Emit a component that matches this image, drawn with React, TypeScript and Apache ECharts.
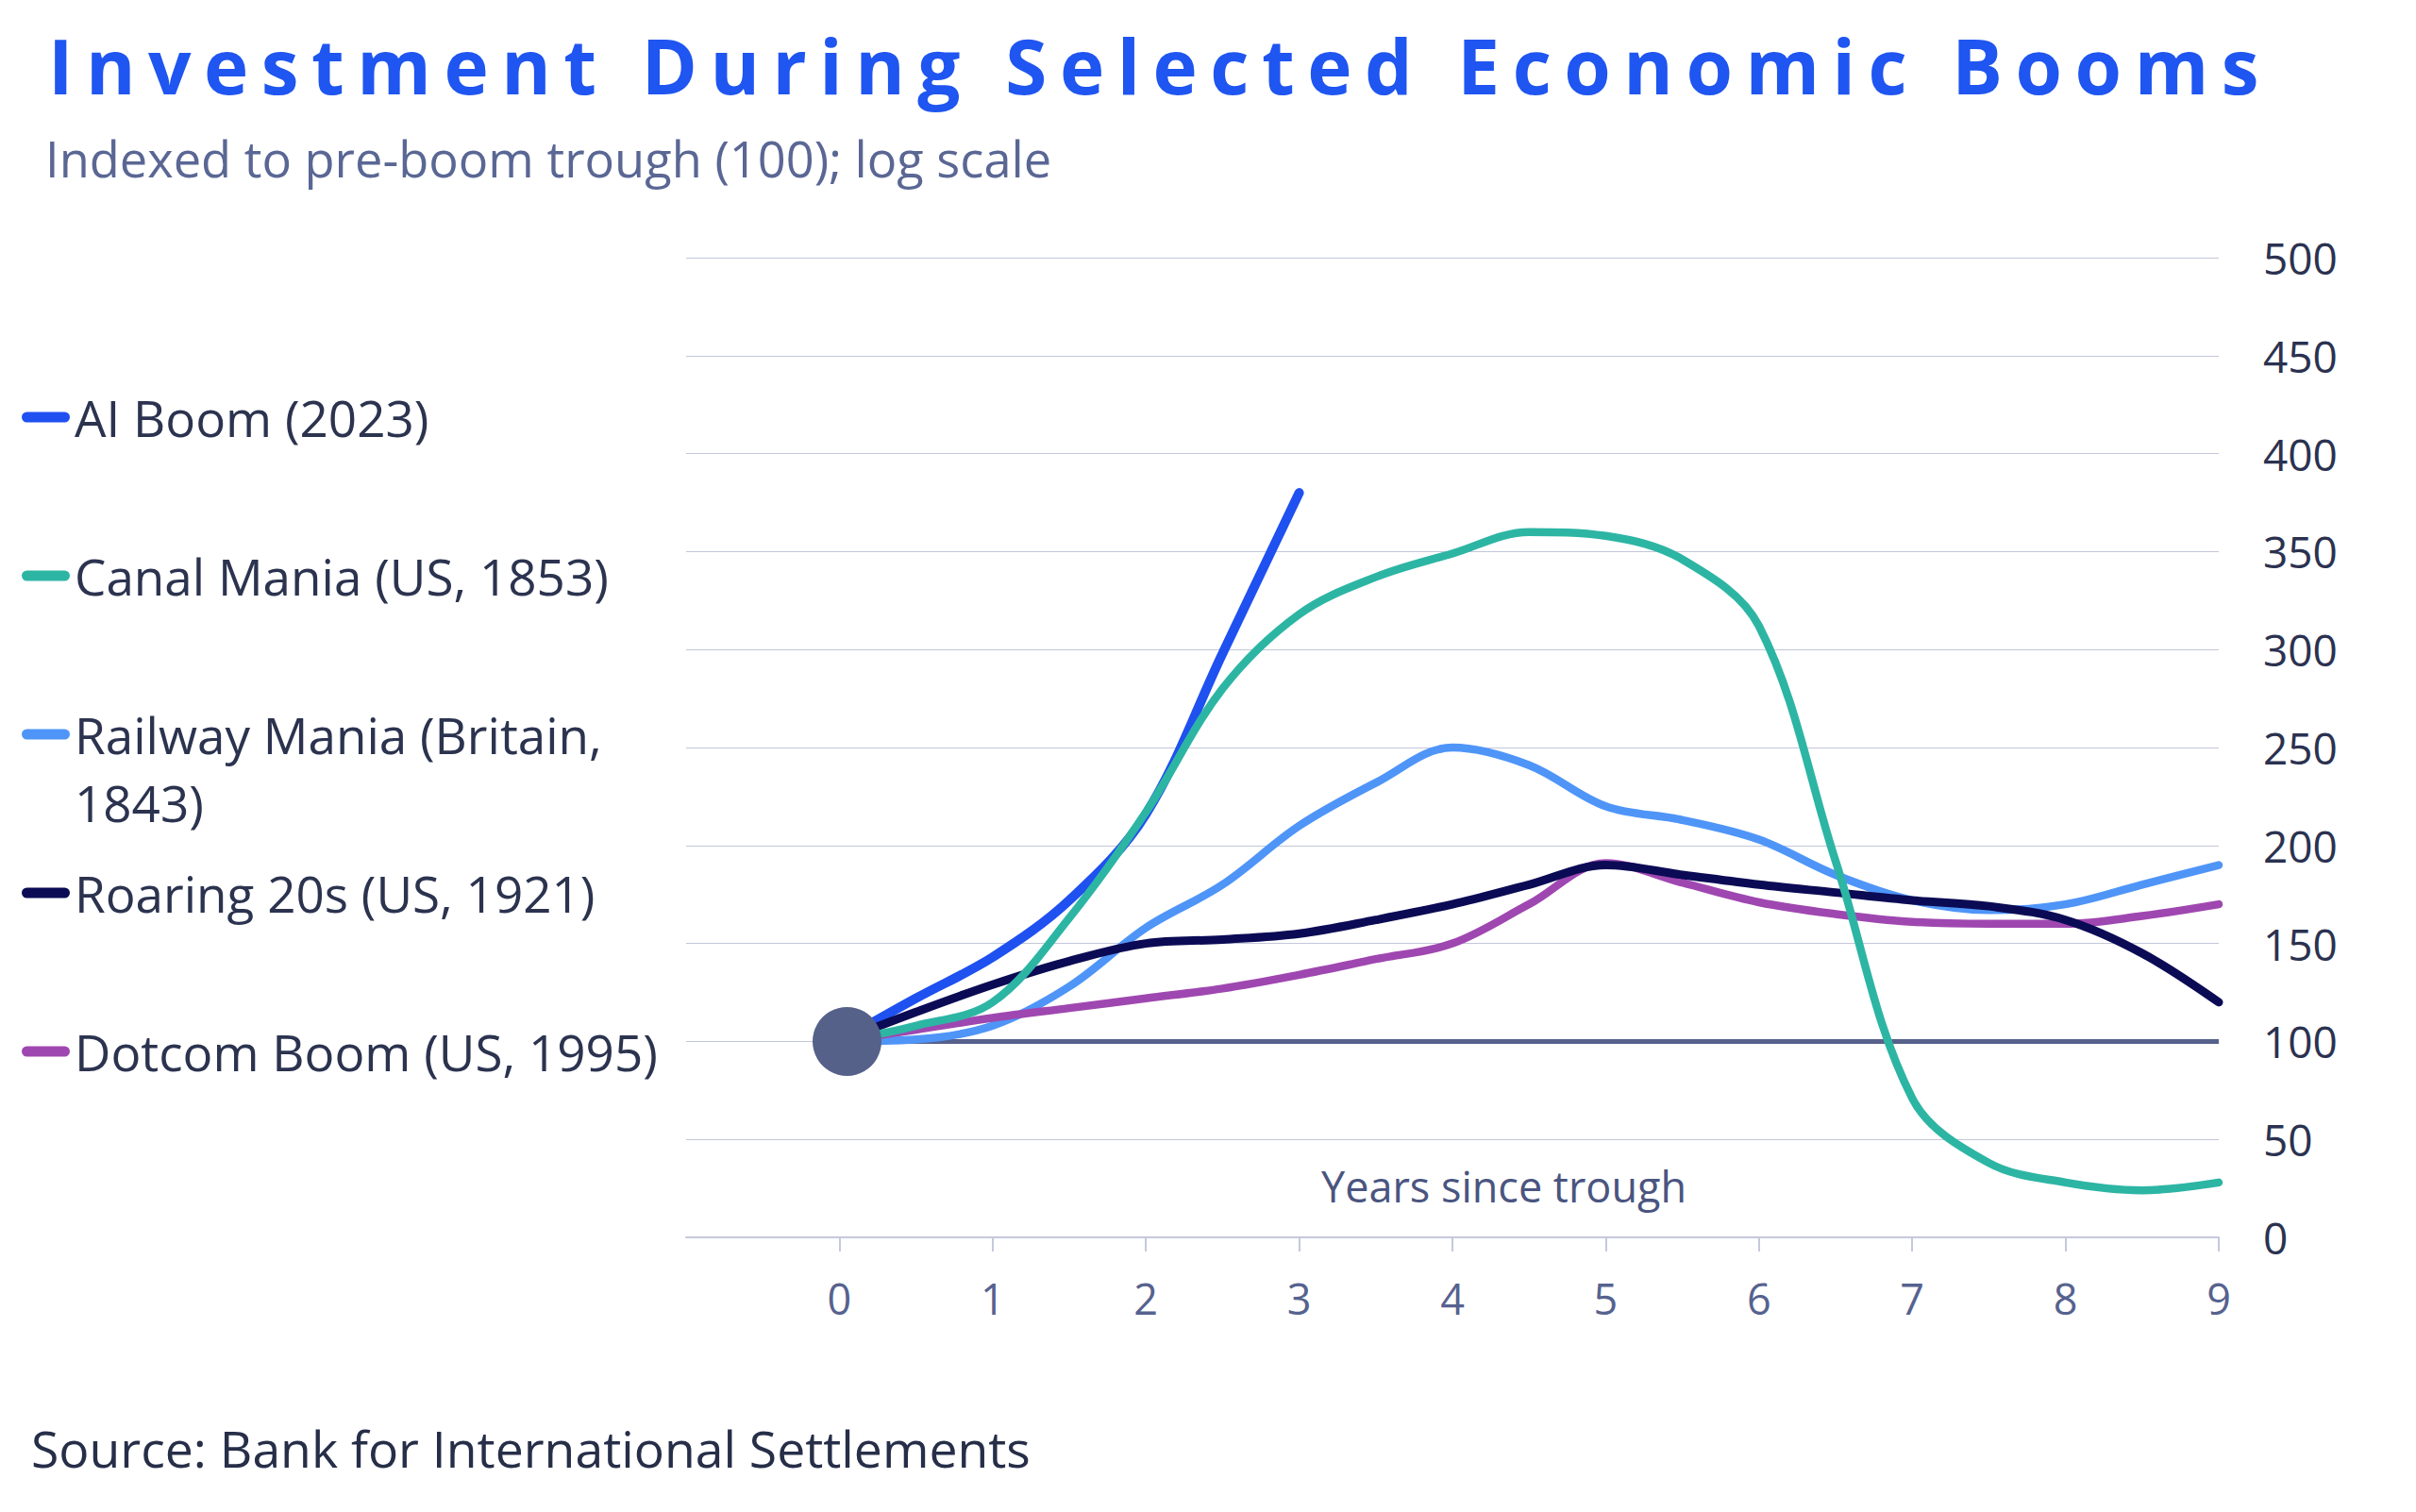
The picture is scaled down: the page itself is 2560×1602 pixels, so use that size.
import React, { useEffect, useRef } from "react";
import * as echarts from "echarts";

// half-year steps since the pre-boom trough
const years = [0, 0.5, 1, 1.5, 2, 2.5, 3, 3.5, 4, 4.5, 5, 5.5, 6, 6.5, 7, 7.5, 8, 8.5, 9];

const aiBoom = [100, 122, 143, 172, 216, 298, 380];
const canalMania = [100, 108, 120, 163, 217, 280, 318, 337, 349, 360, 358, 346, 312, 192, 71, 38, 28, 24, 28];
const railwayMania = [100, 101, 108, 128, 158, 180, 210, 232, 250, 241, 220, 213, 203, 185, 172, 167, 170, 180, 190];
const roaring20s = [100, 115, 129, 141, 150, 152, 155, 162, 170, 180, 190, 185, 180, 176, 172, 169, 162, 145, 120];
const dotcomBoom = [100, 106, 112, 117, 122, 127, 134, 142, 150, 170, 191, 181, 171, 165, 161, 160, 160, 164, 170];

const seriesNames = [
  "AI Boom (2023)",
  "Canal Mania (US, 1853)",
  "Railway Mania (Britain, 1843)",
  "Roaring 20s (US, 1921)",
  "Dotcom Boom (US, 1995)",
];
const seriesValues = [aiBoom, canalMania, railwayMania, roaring20s, dotcomBoom];

const xTickValues = [0, 1, 2, 3, 4, 5, 6, 7, 8, 9];
const baseline = [
  [0, 100],
  [9, 100],
];
const troughPoint = [[0.05, 100]];

const colors = ["#1F50F0", "#2DB5A4", "#4F95F8", "#0B0B55", "#9F47B0"];
const lineWidths = [10, 8.5, 8.5, 9, 8.5];
const lineZ = [4, 8, 3, 6, 5];
const legendCenters = [442, 610, 778, 946, 1114];

const FONT = "'Open Sans', 'Noto Sans', sans-serif";
const CAPSULE = "path://M5.5,0 L45.5,0 A5.5,5.5 0 0 1 45.5,11 L5.5,11 A5.5,5.5 0 0 1 5.5,0 Z";

const toPoints = (vals: number[]) => vals.map((v, i) => [years[i], v]);

const App: React.FC = () => {
  const chartRef = useRef<HTMLDivElement>(null);

  useEffect(() => {
    document.body.style.margin = "0";
    if (!chartRef.current) return;
    const chart = echarts.init(chartRef.current, undefined, { renderer: "svg" });

    const lineSeries = seriesNames.map((name, i) => ({
      name,
      type: "line",
      data: toPoints(seriesValues[i]),
      smooth: 0.35,
      symbol: "none",
      color: colors[i],
      lineStyle: { width: lineWidths[i], color: colors[i], cap: "round", join: "round" },
      z: lineZ[i],
    }));

    // one legend per item so the two-line label keeps the even spacing
    const legends = seriesNames.map((name, i) => {
      const twoLines = name.indexOf("Britain") >= 0;
      return {
        data: [{ name, icon: CAPSULE, itemStyle: { color: colors[i] } }],
        left: 23,
        top: twoLines ? legendCenters[i] - 108 : legendCenters[i] - 36,
        orient: "vertical",
        itemWidth: 51,
        itemHeight: 11,
        padding: 0,
        selectedMode: false,
        formatter: (n: string) => (twoLines ? "\n" + n.replace("Britain, ", "Britain,\n") : n),
        textStyle: {
          fontFamily: FONT,
          fontSize: 53,
          color: "#2B334F",
          lineHeight: 72,
        },
      };
    });

    const option = {
      animation: false,
      backgroundColor: "#ffffff",
      textStyle: { fontFamily: FONT },
      legend: legends,
      grid: { left: 727, right: 209, top: 273, bottom: 291, containLabel: false },
      xAxis: {
        type: "value",
        min: -1,
        max: 9,
        interval: 1,
        axisLine: { show: true, lineStyle: { color: "#C5C9DB", width: 2 } },
        axisTick: {
          show: true,
          length: 15,
          customValues: xTickValues,
          lineStyle: { color: "#C5C9DB", width: 2 },
        },
        axisLabel: {
          customValues: xTickValues,
          margin: 42,
          fontSize: 45,
          fontFamily: FONT,
          color: "#56628F",
        },
        splitLine: { show: false },
      },
      yAxis: {
        type: "value",
        position: "right",
        min: 0,
        max: 500,
        interval: 50,
        axisLine: { show: false },
        axisTick: { show: false },
        axisLabel: { margin: 47, fontSize: 46, fontFamily: FONT, color: "#2B3250" },
        splitLine: { lineStyle: { color: "#C3C7DA", width: 1.2 } },
      },
      graphic: [
        {
          type: "text",
          left: 48,
          top: 141,
          style: {
            text: "Indexed to pre-boom trough (100); log scale",
            font: `52.4px ${FONT}`,
            fill: "#5A6794",
          },
        },
        {
          type: "text",
          left: 1400,
          top: 1234,
          style: { text: "Years since trough", font: `45px ${FONT}`, fill: "#4A5580" },
        },
        {
          type: "text",
          left: 33,
          top: 1507,
          style: {
            text: "Source: Bank for International Settlements",
            font: `53.5px ${FONT}`,
            fill: "#262E48",
          },
        },
      ],
      series: [
        {
          name: "baseline",
          type: "line",
          data: baseline,
          symbol: "none",
          lineStyle: { color: "#56618C", width: 5 },
          z: 2,
          silent: true,
        },
        ...lineSeries,
        {
          name: "trough",
          type: "scatter",
          data: troughPoint,
          symbolSize: 73,
          itemStyle: { color: "#56618A", opacity: 1 },
          z: 20,
          silent: true,
        },
      ],
    };

    chart.setOption(option);
    return () => chart.dispose();
  }, []);

  return (
    <div style={{ position: "relative", width: 2560, height: 1602, background: "#fff" }}>
      <div ref={chartRef} style={{ position: "absolute", left: 0, top: 0, width: 2560, height: 1602 }}></div>
      <div
        style={{
          position: "absolute",
          left: 51,
          top: 29,
          fontFamily: FONT,
          fontWeight: 700,
          fontSize: 80,
          lineHeight: "80px",
          letterSpacing: "13.5px",
          color: "#1F55F0",
          whiteSpace: "nowrap",
        }}
      >
        Investment During Selected Economic Booms
      </div>
    </div>
  );
};

export default App;
